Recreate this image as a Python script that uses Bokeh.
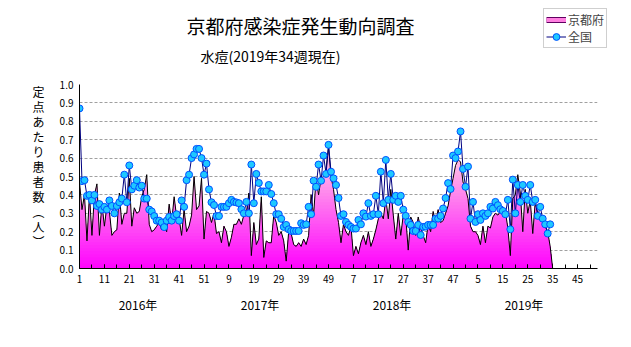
import numpy as np
from bokeh.plotting import figure
from bokeh.layouts import column, row
from bokeh.models import (Range1d, FixedTicker, LinearAxis, Legend, LegendItem,
                          Label)
from bokeh.core.properties import value
from bokeh.embed import file_html
from bokeh.resources import INLINE

FONT = "Noto Sans CJK JP"

title_text = "京都府感染症発生動向調査"
subtitle_text = "水痘(2019年34週現在)"
y_label_chars = ["定", "点", "あ", "た", "り", "患", "者", "数", "︵", "人", "︶"]
series_names = ["京都府", "全国"]

year_labels = ["2016年", "2017年", "2018年", "2019年"]
year_label_pos = [24.5, 73.5, 126.5, 179.5]

tick_pos = [1, 11, 21, 31, 41, 51, 61, 71, 81, 91, 101, 111, 121, 131, 141,
            151, 161, 171, 181, 191, 201]
tick_labels = ["1", "11", "21", "31", "41", "51", "9", "19", "29", "39", "49",
               "7", "17", "27", "37", "47", "5", "15", "25", "35", "45"]
minor_tick_pos = list(range(1, 209, 5))
y_ticks = [0.0, 0.1, 0.2, 0.3, 0.4, 0.5, 0.6, 0.7, 0.8, 0.9, 1.0]

# Kyoto prefecture (per sentinel), weekly
kyoto_2016 = [0.47, 0.32, 0.40, 0.15, 0.40, 0.18, 0.40, 0.46, 0.18, 0.35,
              0.23, 0.34, 0.31, 0.18, 0.20, 0.21, 0.41, 0.24, 0.30, 0.30,
              0.49, 0.23, 0.33, 0.30, 0.31, 0.39, 0.43, 0.51, 0.24, 0.20,
              0.21, 0.23, 0.25, 0.21, 0.23, 0.20, 0.35, 0.25, 0.39, 0.28,
              0.27, 0.18, 0.32, 0.20, 0.23, 0.29, 0.50, 0.32, 0.34, 0.49,
              0.16, 0.31]
kyoto_2017 = [0.30, 0.25, 0.30, 0.19, 0.20, 0.14, 0.23, 0.20, 0.12, 0.17,
              0.24, 0.24, 0.27, 0.24, 0.29, 0.30, 0.41, 0.07, 0.25, 0.13,
              0.16, 0.39, 0.06, 0.15, 0.14, 0.14, 0.29, 0.25, 0.18, 0.20,
              0.15, 0.04, 0.20, 0.19, 0.13, 0.12, 0.14, 0.12, 0.16, 0.13,
              0.18, 0.40, 0.29, 0.49, 0.40, 0.49, 0.50, 0.54, 0.66, 0.50,
              0.43, 0.32]
kyoto_2018 = [0.25, 0.14, 0.24, 0.20, 0.18, 0.23, 0.07, 0.12, 0.08, 0.14,
              0.18, 0.13, 0.20, 0.12, 0.16, 0.21, 0.27, 0.30, 0.27, 0.38,
              0.27, 0.43, 0.29, 0.16, 0.30, 0.18, 0.29, 0.28, 0.10, 0.28,
              0.25, 0.18, 0.28, 0.22, 0.18, 0.14, 0.24, 0.20, 0.31, 0.25,
              0.32, 0.25, 0.26, 0.30, 0.34, 0.42, 0.49, 0.56, 0.59, 0.58,
              0.47, 0.43]
kyoto_2019 = [0.38, 0.23, 0.20, 0.20, 0.18, 0.13, 0.23, 0.14, 0.23, 0.22,
              0.28, 0.30, 0.29, 0.31, 0.29, 0.31, 0.22, 0.07, 0.38, 0.40,
              0.51, 0.41, 0.20, 0.43, 0.30, 0.37, 0.19, 0.36, 0.30, 0.29,
              0.28, 0.23, 0.20, 0.12, 0.0]

# Nationwide (per sentinel), weekly
national_2016 = [0.87, 0.475, 0.48, 0.395, 0.40, 0.37, 0.40, 0.34, 0.35, 0.32,
                 0.335, 0.32, 0.37, 0.34, 0.30, 0.34, 0.36, 0.38, 0.51, 0.36,
                 0.56, 0.43, 0.45, 0.48, 0.44, 0.45, 0.38, 0.38, 0.32, 0.31,
                 0.285, 0.26, 0.26, 0.25, 0.225, 0.26, 0.28, 0.26, 0.285, 0.295,
                 0.26, 0.37, 0.335, 0.48, 0.51, 0.60, 0.62, 0.65, 0.65, 0.60,
                 0.51, 0.57]
national_2017 = [0.43, 0.36, 0.345, 0.285, 0.285, 0.335, 0.335, 0.335, 0.355, 0.373,
                 0.362, 0.359, 0.355, 0.322, 0.30, 0.362, 0.30, 0.565, 0.355, 0.514,
                 0.465, 0.419, 0.419, 0.419, 0.454, 0.405, 0.355, 0.295, 0.295, 0.27,
                 0.226, 0.237, 0.213, 0.204, 0.204, 0.204, 0.204, 0.246, 0.237, 0.24,
                 0.335, 0.295, 0.477, 0.444, 0.565, 0.477, 0.614, 0.514, 0.672, 0.526,
                 0.49, 0.454]
national_2018 = [0.383, 0.286, 0.295, 0.253, 0.237, 0.226, 0.217, 0.217, 0.264, 0.24,
                 0.30, 0.282, 0.355, 0.286, 0.295, 0.395, 0.295, 0.526, 0.355, 0.59,
                 0.373, 0.514, 0.373, 0.395, 0.362, 0.395, 0.32, 0.286, 0.253, 0.237,
                 0.204, 0.204, 0.237, 0.182, 0.226, 0.228, 0.237, 0.237, 0.237, 0.271,
                 0.271, 0.286, 0.326, 0.383, 0.464, 0.432, 0.614, 0.60, 0.636, 0.745,
                 0.541, 0.444]
national_2019 = [0.554, 0.271, 0.362, 0.253, 0.295, 0.264, 0.30, 0.286, 0.30, 0.335,
                 0.326, 0.362, 0.344, 0.322, 0.313, 0.295, 0.373, 0.213, 0.483, 0.30,
                 0.454, 0.362, 0.454, 0.395, 0.373, 0.454, 0.362, 0.373, 0.286, 0.335,
                 0.271, 0.24, 0.19, 0.24]

kyoto = np.array(kyoto_2016 + kyoto_2017 + kyoto_2018 + kyoto_2019)
national = np.array(national_2016 + national_2017 + national_2018 + national_2019)
wk_k = np.arange(1, len(kyoto) + 1)
wk_n = np.arange(1, len(national) + 1)

KYOTO_LINE = "black"
NAT_LINE = "#000080"
NAT_FILL = "#1ec8ff"
NAT_EDGE = "#0050ff"

HEAD_H = 76     # header canvas height
TOP_PAD = 8     # space above plot frame inside main canvas
BOTTOM = 79     # space below plot frame


def blank(width, height, bottom=0, top_pad=0):
    f = figure(width=width, height=height, x_range=Range1d(0, width),
               y_range=Range1d(0, height - bottom - top_pad), output_backend="svg",
               toolbar_location=None, x_axis_type=None, y_axis_type=None,
               min_border=0, min_border_bottom=bottom, min_border_top=top_pad,
               background_fill_color="white", border_fill_color="white")
    f.outline_line_color = None
    f.grid.visible = False
    return f


# ---------------- header: title, subtitle, legend ----------------
top = blank(631, HEAD_H)
top.add_layout(Label(x=300, y=HEAD_H - 25, text=title_text, text_align="center",
                     text_baseline="middle", text_font=FONT,
                     text_font_size="19px", text_color="black"))
top.add_layout(Label(x=200, y=HEAD_H - 55, text=subtitle_text, text_align="left",
                     text_baseline="middle", text_font=FONT,
                     text_font_size="14px", text_color="black"))
nan1 = [np.nan]
kyoto_proxy_edge = top.line(x=nan1, y=nan1, line_color="#600060", line_width=6)
kyoto_proxy_fill = top.line(x=nan1, y=nan1, line_color="#ff7fe0", line_width=4)
nat_line_proxy = top.line(x=nan1, y=nan1, line_color=NAT_LINE, line_width=1)
nat_pts_proxy = top.scatter(x=nan1, y=nan1, size=7, fill_color=NAT_FILL,
                            line_color=NAT_EDGE, line_width=1)
legend = Legend(items=[LegendItem(label=series_names[0],
                                  renderers=[kyoto_proxy_edge, kyoto_proxy_fill]),
                       LegendItem(label=series_names[1],
                                  renderers=[nat_line_proxy, nat_pts_proxy])],
                location=(543, HEAD_H - 48), orientation="vertical",
                label_text_font=FONT, label_text_font_size="12px",
                label_height=16, glyph_width=20, glyph_height=17,
                label_standoff=2, padding=2, spacing=0, margin=0,
                border_line_color="#a0a0a0", border_line_width=1,
                background_fill_color="white", background_fill_alpha=1)
top.add_layout(legend)

# ---------------- left: vertical y label (frame aligned with main plot) ----------------
left = blank(50, 347 - HEAD_H, bottom=BOTTOM, top_pad=TOP_PAD)
ys = 177 - 15 * np.arange(len(y_label_chars))
left.text(x=np.full(len(y_label_chars), 38), y=ys, text=y_label_chars,
          text_align="center", text_baseline="middle",
          text_font=value(FONT), text_font_size="12px", text_color="black")

# ---------------- main plot ----------------
p = figure(width=581, height=347 - HEAD_H, x_range=Range1d(1, 209),
           y_range=Range1d(0, 1), output_backend="svg", toolbar_location=None,
           min_border_left=29, min_border_right=34, min_border_top=TOP_PAD,
           min_border_bottom=BOTTOM, background_fill_color="white",
           border_fill_color="white")
p.outline_line_color = None

p.xgrid.grid_line_color = None
p.ygrid.ticker = FixedTicker(ticks=y_ticks)
p.ygrid.grid_line_color = "#a0a0a0"
p.ygrid.grid_line_dash = "3 2"
p.ygrid.grid_line_width = 1

xa = p.xaxis[0]
xa.ticker = FixedTicker(ticks=tick_pos, minor_ticks=minor_tick_pos)
xa.major_label_overrides = {t: l for t, l in zip(tick_pos, tick_labels)}
xa.axis_line_color = "black"
xa.major_tick_in = 4
xa.major_tick_out = 0
xa.minor_tick_in = 4
xa.minor_tick_out = 0
xa.major_tick_line_color = "black"
xa.minor_tick_line_color = "black"
xa.major_label_text_font = FONT
xa.major_label_text_font_size = "10px"
xa.major_label_text_color = "black"
xa.major_label_standoff = 6

year_axis = LinearAxis(ticker=FixedTicker(ticks=year_label_pos),
                       major_label_overrides={t: l for t, l in zip(year_label_pos, year_labels)},
                       axis_line_color=None, major_tick_line_color=None,
                       minor_tick_line_color=None, major_label_standoff=4,
                       major_label_text_font=FONT, major_label_text_font_size="12px",
                       major_label_text_color="black")
p.add_layout(year_axis, "below")

yax = p.yaxis[0]
yax.ticker = FixedTicker(ticks=y_ticks)
yax.major_label_overrides = {t: f"{t:.1f}" for t in y_ticks}
yax.axis_line_color = "black"
yax.major_tick_in = 0
yax.major_tick_out = 0
yax.minor_tick_line_color = None
yax.major_label_text_font = FONT
yax.major_label_text_font_size = "10px"
yax.major_label_text_color = "black"
yax.major_label_standoff = 6

# Kyoto area: vertical gradient built from stacked capped areas
top_col = np.array([255, 180, 232])
bot_col = np.array([255, 0, 255])
caps = np.linspace(kyoto.max(), 0.01, 40)
for c in caps:
    t = min(c / 0.55, 1.0)
    rgb = (bot_col + (top_col - bot_col) * t).astype(int)
    col = "#%02x%02x%02x" % tuple(rgb)
    p.varea(x=wk_k, y1=np.zeros_like(kyoto), y2=np.minimum(kyoto, c), fill_color=col)
p.line(wk_k, kyoto, line_color=KYOTO_LINE, line_width=1)

p.line(wk_n, national, line_color=NAT_LINE, line_width=1)
p.scatter(wk_n, national, size=7, fill_color=NAT_FILL, line_color=NAT_EDGE,
          line_width=1)

layout = column(top, row(left, p, spacing=0), spacing=0)
open("out.html", "w").write(file_html(layout, INLINE))
